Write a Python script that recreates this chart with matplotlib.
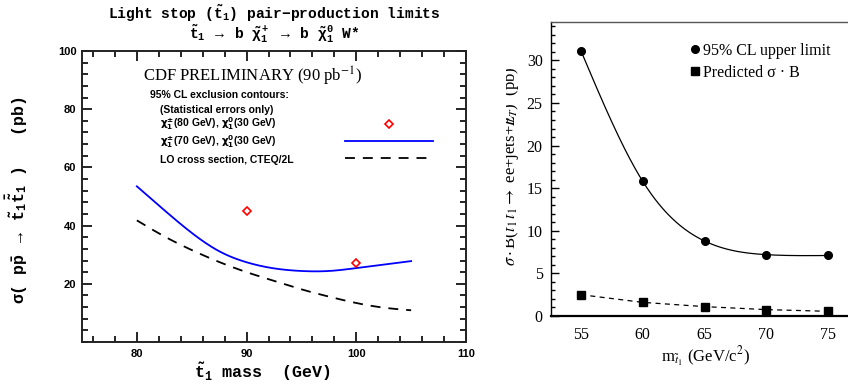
import numpy as np
import matplotlib.pyplot as plt
from matplotlib.ticker import MultipleLocator
from matplotlib.lines import Line2D
from matplotlib.transforms import Bbox

# mono bold mathtext for the stop-limit panel, stix for the sigma*B panel
plt.rcParams['mathtext.fontset'] = 'custom'
plt.rcParams['mathtext.rm'] = 'Liberation Mono:bold'
plt.rcParams['mathtext.it'] = 'Liberation Mono:bold'
plt.rcParams['mathtext.bf'] = 'Liberation Mono:bold'

# --- left: light stop pair-production limits (pb) vs stop mass (GeV)
stop_mass = [80, 82.5, 85, 87.5, 90, 92.5, 95, 97.5, 100, 102.5, 105]
limit_chi70 = [53.5, 45.3, 37.5, 31.2, 27.4, 25.3, 24.4, 24.4, 25.4, 26.6, 27.8]
lo_xsec = [41.8, 36.3, 31.6, 27.5, 24.0, 21.0, 18.1, 15.6, 13.4, 11.8, 10.9]
chi80_mass = [90, 100]
limit_chi80 = [45, 27]

# --- right: sigma*B for ee+jets+MET vs stop mass
m_stop = [55, 60, 65, 70, 75]
upper_limit = [31.1, 15.8, 8.8, 7.2, 7.1]
predicted = [2.5, 1.6, 1.1, 0.75, 0.55]


def spline(x, y, n=300):
    """natural cubic spline through (x, y), for drawing smooth curves"""
    x = np.asarray(x, float)
    y = np.asarray(y, float)
    h = np.diff(x)
    k = len(x)
    A = np.zeros((k, k))
    b = np.zeros(k)
    A[0, 0] = A[-1, -1] = 1
    for i in range(1, k - 1):
        A[i, i - 1] = h[i - 1]
        A[i, i] = 2 * (h[i - 1] + h[i])
        A[i, i + 1] = h[i]
        b[i] = 6 * ((y[i + 1] - y[i]) / h[i] - (y[i] - y[i - 1]) / h[i - 1])
    M = np.linalg.solve(A, b)
    xs = np.linspace(x[0], x[-1], n)
    i = np.clip(np.searchsorted(x, xs) - 1, 0, k - 2)
    hi = h[i]
    a = x[i + 1] - xs
    c = xs - x[i]
    ys = (M[i] * a ** 3 + M[i + 1] * c ** 3) / (6 * hi) \
        + (y[i] / hi - M[i] * hi / 6) * a + (y[i + 1] / hi - M[i + 1] * hi / 6) * c
    return xs, ys


mono = ['Liberation Mono', 'DejaVu Sans Mono']
serif = ['Liberation Serif', 'DejaVu Serif']

fig = plt.figure(figsize=(8.48, 3.85), dpi=100)

ax1 = fig.add_axes([82 / 848, 43 / 385, 384 / 848, 291 / 385])
ax1.plot(*spline(stop_mass, limit_chi70), color='blue', lw=1.3)
ax1.plot(*spline(stop_mass, lo_xsec), color='black', lw=1.3, dashes=(5.5, 4.4))
ax1.plot(chi80_mass, limit_chi80, 'D', mfc='none', mec='red', ms=4, mew=1.2)
ax1.set_xlim(75, 110)
ax1.set_ylim(0, 100)
ax1.set_xticks([80, 90, 100, 110])
ax1.set_yticks([20, 40, 60, 80, 100])
ax1.xaxis.set_minor_locator(MultipleLocator(2))
ax1.yaxis.set_minor_locator(MultipleLocator(4))
ax1.tick_params(which='both', direction='in', top=True, right=True,
                width=1.2, labelsize=8)
ax1.tick_params(which='major', length=7)
ax1.tick_params(which='minor', length=4)
ax1.tick_params(axis='x', pad=5)
ax1.tick_params(axis='y', pad=4)
for lab in ax1.get_xticklabels() + ax1.get_yticklabels():
    lab.set_fontweight('bold')
    lab.set_family(['Liberation Sans', 'DejaVu Sans'])
for sp in ax1.spines.values():
    sp.set_linewidth(1.4)
    sp.set_color('#222222')

ax1.set_xlabel(r'$\tilde{t}_1$ mass  (GeV)', family=mono, weight='bold',
               fontsize=12, math_fontfamily='custom')
ax1.xaxis.set_label_coords(0.469, -0.062)
ax1.set_ylabel(r'$\sigma$( p$\bar{p}$ $\rightarrow$ $\tilde{t}_1\bar{\tilde{t}}_1$ )   (pb)',
               family=mono, weight='bold', fontsize=12, math_fontfamily='custom')
ax1.yaxis.set_label_coords(-0.135, 0.488)

fig.text(0.323, 0.964, r'Light stop ($\tilde{t}_1$) pair$-$production limits',
         ha='center', va='center', family=mono, weight='bold', fontsize=10.5,
         math_fontfamily='custom')
fig.text(0.323, 0.912,
         r'$\tilde{t}_1$ $\rightarrow$ b $\tilde{\chi}_1^+$ $\rightarrow$ b $\tilde{\chi}_1^0$ W*',
         ha='center', va='center', family=mono, weight='bold', fontsize=10.5,
         math_fontfamily='custom')

ax1.text(0.159, 0.911, r'CDF PRELIMINARY (90 pb$^{-1}$)', transform=ax1.transAxes,
         ha='left', va='center', family=serif, fontsize=12, math_fontfamily='stix')
sans_b = dict(transform=ax1.transAxes, ha='left', va='center',
              family=['Liberation Sans', 'DejaVu Sans'], weight='bold', fontsize=7.5,
              math_fontfamily='dejavusans')
ax1.text(0.177, 0.849, '95% CL exclusion contours:', **sans_b)
ax1.text(0.203, 0.797, '(Statistical errors only)', **sans_b)
ax1.text(0.203, 0.749, r'$\mathbf{\chi_1^{\pm}}$(80 GeV), $\mathbf{\chi_1^0}$(30 GeV)', **sans_b)
ax1.text(0.203, 0.687, r'$\mathbf{\chi_1^{\pm}}$(70 GeV), $\mathbf{\chi_1^0}$(30 GeV)', **sans_b)
ax1.text(0.203, 0.625, 'LO cross section, CTEQ/2L', **sans_b)
# key samples
ax1.add_line(Line2D([0.799], [0.749], transform=ax1.transAxes, marker='D',
                    mfc='none', mec='red', ms=4, mew=1.2, ls='none'))
ax1.add_line(Line2D([0.685, 0.914], [0.691, 0.691], transform=ax1.transAxes,
                    color='blue', lw=1.3))
ax1.add_line(Line2D([0.685, 0.914], [0.632, 0.632], transform=ax1.transAxes,
                    color='black', lw=1.3, dashes=(5.5, 4.4)))

# --- right panel
ax2 = fig.add_axes([551 / 848, 69 / 385, 297 / 848, 294 / 385])
ax2.plot(*spline(m_stop, upper_limit), color='black', lw=0.9)
ax2.plot(m_stop, predicted, color='black', lw=0.9, dashes=(4, 3.5))
ax2.plot(m_stop, upper_limit, 'o', color='black', ms=5.5,
         label='95% CL upper limit')
ax2.plot(m_stop, predicted, 's', color='black', ms=5.5,
         label='Predicted σ · B')
ax2.set_xlim(52.57, 76.62)
ax2.set_ylim(0, 34.5)
ax2.set_xticks([55, 60, 65, 70, 75])
ax2.set_yticks([0, 5, 10, 15, 20, 25, 30])
ax2.yaxis.set_minor_locator(MultipleLocator(1))
ax2.tick_params(axis='y', which='both', direction='in', width=1, labelsize=11.5,
                pad=6)
ax2.tick_params(axis='y', which='major', length=6)
ax2.tick_params(axis='y', which='minor', length=3)
ax2.tick_params(axis='x', length=0, labelsize=11.5, pad=8)
for lab in ax2.get_xticklabels() + ax2.get_yticklabels():
    lab.set_family(serif)
ax2.spines['right'].set_visible(False)
ax2.spines['left'].set_linewidth(1.0)
ax2.spines['bottom'].set_linewidth(1.6)
ax2.spines['top'].set_linewidth(1.0)
ax2.spines['top'].set_color('#555555')

ax2.set_xlabel(r'm$_{\tilde{t}_1}$ (GeV/c$^2$)', family=serif, fontsize=12,
               math_fontfamily='stix')
ax2.xaxis.set_label_coords(0.52, -0.1)
ylab = ax2.set_ylabel(r'$\sigma\cdot$B($\tilde{t}_1\,\bar{\tilde{t}}_1\rightarrow$ ee+jets+$E\!\!\!/_T$)  (pb)',
                      family=serif, fontsize=12, math_fontfamily='stix')
ax2.yaxis.set_label_coords(-0.097, 0.51)
# the label runs past the left edge of this panel's area
ylab.set_clip_box(Bbox.from_extents(506, 0, 848, 385))
ylab.set_clip_on(True)

ax2.legend(loc='upper left', bbox_to_anchor=(689 / 848, 1 - 43 / 385),
           bbox_transform=fig.transFigure, frameon=False, handlelength=0.8,
           handletextpad=0.1, borderpad=0, borderaxespad=0, labelspacing=0.35,
           prop={'family': serif, 'size': 11.5})

fig.savefig('out.png', dpi=100)
